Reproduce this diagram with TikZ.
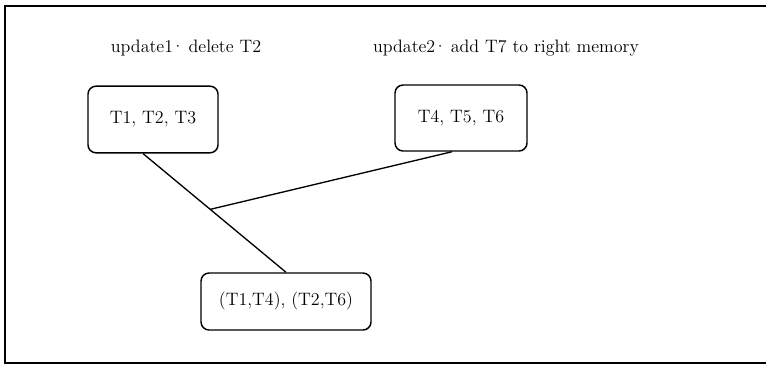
\documentclass[tikz,border=0pt]{standalone}
\usetikzlibrary{calc}

\tikzset{every picture/.style={line width=0.75pt}}
\tikzset{
  memory/.style={draw, line width=1.1pt, rounded corners=6pt, align=center, font=\fontsize{13.5}{15}\selectfont},
  label/.style={font=\fontsize{13.5}{15}\selectfont},
  link/.style={line width=1pt}
}
\newcommand{\updot}{\kern-1.5pt·\kern-1.5pt}

\begin{document}
\begin{tikzpicture}[x=0.75pt,y=0.75pt,yscale=-1,xscale=1]
\useasboundingbox (0,0) rectangle (766,364);

%Shape: Frame (open on the right)
\draw [line width=1pt] (790,6) -- (5,6) -- (5,363) -- (790,363) ;

% Text Node
\node [label] (upd1) at (186,48) {update1\updot{} delete T2};
% Text Node
\node [label] (upd2) at (506,48) {update2\updot{} add T7 to right memory};

%Shape: Rounded Rect
\node [memory, minimum width=97.5pt, minimum height=50pt] (t1) at (153,119.5) {T1, T2, T3};
%Shape: Rounded Rect
\node [memory, minimum width=99pt, minimum height=49.5pt] (t2) at (461,118) {T4, T5, T6};
%Shape: Rounded Rect
\node [memory, minimum width=127.5pt, minimum height=42.75pt] (t3) at (286,301.5) {(T1,T4), (T2,T6)};

%Straight Lines
\coordinate (join) at ($([xshift=-7.5pt]t1.south)!0.47!(t3.north)$);
\draw [link] ([xshift=-7.5pt]t1.south) -- (t3.north) ;
\draw [link] (join) -- ([xshift=-6.75pt]t2.south) ;

\end{tikzpicture}
\end{document}
